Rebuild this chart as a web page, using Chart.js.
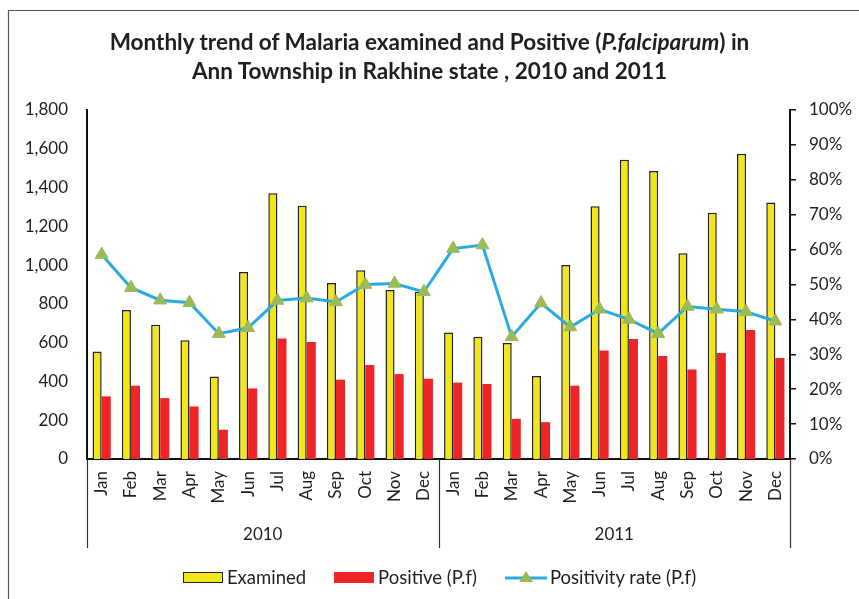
<!DOCTYPE html>
<html><head><meta charset="utf-8">
<script src="https://cdn.jsdelivr.net/npm/chart.js@4.4.0/dist/chart.umd.min.js"></script>
<style>
body{margin:0;background:#fff;}
#wrap{position:relative;width:859px;height:599px;overflow:hidden;font-family:Lato,sans-serif;color:#1f1f1f;}
#title{position:absolute;left:0;width:859px;top:27px;text-align:center;font-weight:bold;font-size:22.5px;line-height:29px;}
#legend{position:absolute;top:566px;left:20px;width:839px;display:flex;justify-content:center;align-items:center;font-size:18.5px;line-height:22px;}
.item{display:flex;align-items:center;margin:0 14px;}
.box{display:inline-block;width:40px;height:11px;margin-right:4px;box-sizing:border-box;}
canvas{position:absolute;left:0;top:0;}
</style></head>
<body>
<div id="wrap">
<canvas id="c" width="859" height="599"></canvas>
<div id="title">Monthly trend of Malaria examined and Positive (<i>P.falciparum</i>) in<br>Ann Township in Rakhine state , 2010 and 2011</div>
<div id="legend">
  <span class="item"><span class="box" style="background:#F0E61A;border:1.5px solid #222;"></span>Examined</span>
  <span class="item"><span class="box" style="background:#EE2427;"></span>Positive (P.f)</span>
  <span class="item"><svg width="42" height="14" style="margin-right:3px"><line x1="0" y1="8" x2="42" y2="8" stroke="#29ABE2" stroke-width="3"/><polygon points="21,1 28,12 14,12" fill="#9BBB59"/></svg>Positivity rate (P.f)</span>
</div>
</div>
<script>
const months = ['Jan','Feb','Mar','Apr','May','Jun','Jul','Aug','Sep','Oct','Nov','Dec'];
const years = ['2010','2011'];
const examined2010 = [555, 769, 693, 612, 426, 965, 1370, 1306, 908, 974, 872, 862];
const examined2011 = [652, 631, 598, 428, 1001, 1304, 1543, 1485, 1061, 1270, 1574, 1323];
const positive2010 = [323, 378, 314, 271, 151, 364, 621, 603, 409, 485, 438, 414];
const positive2011 = [394, 387, 207, 190, 378, 560, 619, 531, 462, 547, 665, 521];
const rate2010 = [58.6, 49.1, 45.5, 44.8, 35.9, 37.6, 45.4, 46.1, 45.0, 50.0, 50.3, 47.9];
const rate2011 = [60.3, 61.3, 35.0, 44.7, 37.8, 42.9, 40.0, 35.9, 43.7, 42.9, 42.2, 39.5];
const countTicks = [0, 200, 400, 600, 800, 1000, 1200, 1400, 1600, 1800];
const rateTicks = [0, 10, 20, 30, 40, 50, 60, 70, 80, 90, 100];

const labels = months.concat(months);
const FONT = {family: 'Lato', size: 17};
const TXT = '#1f1f1f';

const extras = {
  id: 'extras',
  afterDraw(chart) {
    const ctx = chart.ctx;
    const xs = chart.scales.x;
    const area = chart.chartArea;
    ctx.save();
    // outer frame
    ctx.strokeStyle = '#555';
    ctx.lineWidth = 1.2;
    ctx.beginPath();
    ctx.moveTo(8.5, 599); ctx.lineTo(8.5, 10.5); ctx.lineTo(859, 10.5);
    ctx.stroke();
    // year group separators & labels
    const n = months.length;
    const bounds = [xs.left];
    for (let g = 1; g < years.length; g++) {
      bounds.push((xs.getPixelForValue(g * n - 1) + xs.getPixelForValue(g * n)) / 2);
    }
    bounds.push(xs.right);
    ctx.strokeStyle = '#333';
    ctx.lineWidth = 1.2;
    bounds.forEach(b => {
      ctx.beginPath();
      ctx.moveTo(Math.round(b) + 0.5, area.bottom);
      ctx.lineTo(Math.round(b) + 0.5, 548);
      ctx.stroke();
    });
    ctx.fillStyle = TXT;
    ctx.font = '17px Lato';
    ctx.textAlign = 'center';
    ctx.textBaseline = 'middle';
    years.forEach((y, i) => {
      ctx.fillText(y, (bounds[i] + bounds[i + 1]) / 2, 535);
    });
    ctx.restore();
  }
};

new Chart(document.getElementById('c'), {
  type: 'bar',
  data: {
    labels: labels,
    datasets: [
      {
        type: 'line', label: 'Positivity rate (P.f)', data: rate2010.concat(rate2011), yAxisID: 'y1', order: 0,
        borderColor: '#29ABE2', borderWidth: 3, tension: 0,
        pointStyle: 'triangle', pointRadius: 7.5, pointBackgroundColor: '#9BBB59', pointBorderColor: '#9BBB59', pointBorderWidth: 1
      },
      {
        label: 'Examined', data: examined2010.concat(examined2011), yAxisID: 'y', order: 1,
        backgroundColor: '#F0E61A', borderColor: '#222', borderWidth: {top: 1.5, left: 1.5, right: 1.5, bottom: 0},
        categoryPercentage: 0.62, barPercentage: 1.0
      },
      {
        label: 'Positive (P.f)', data: positive2010.concat(positive2011), yAxisID: 'y', order: 1,
        backgroundColor: '#EE2427', borderWidth: 0,
        categoryPercentage: 0.62, barPercentage: 1.0
      }
    ]
  },
  options: {
    responsive: false, animation: false,
    layout: {padding: {top: 110, left: 0, right: 0, bottom: 0}},
    plugins: {legend: {display: false}, title: {display: false}, tooltip: {enabled: false}},
    scales: {
      x: {
        offset: true,
        grid: {display: false, drawTicks: false},
        border: {display: true, color: '#111', width: 2},
        ticks: {autoSkip: false, minRotation: 90, maxRotation: 90, padding: 12, color: TXT, font: FONT},
        afterFit(s) { s.height = 140; }
      },
      y: {
        position: 'left', min: 0, max: 1800,
        afterBuildTicks(s) { s.ticks = countTicks.map(v => ({value: v})); },
        grid: {display: false, drawTicks: false},
        border: {display: true, color: '#111', width: 2},
        ticks: {padding: 19, color: TXT, font: FONT, callback: v => v.toLocaleString('en-US')},
        afterFit(s) { s.width = 87; }
      },
      y1: {
        position: 'right', min: 0, max: 100,
        afterBuildTicks(s) { s.ticks = rateTicks.map(v => ({value: v})); },
        grid: {display: true, drawOnChartArea: false, drawTicks: true, tickLength: 6, color: '#111', lineWidth: 1.5},
        border: {display: true, color: '#111', width: 2},
        ticks: {padding: 13, color: TXT, font: FONT, callback: v => v + '%'},
        afterFit(s) { s.width = 69; }
      }
    }
  },
  plugins: [extras]
});
</script>
</body></html>
